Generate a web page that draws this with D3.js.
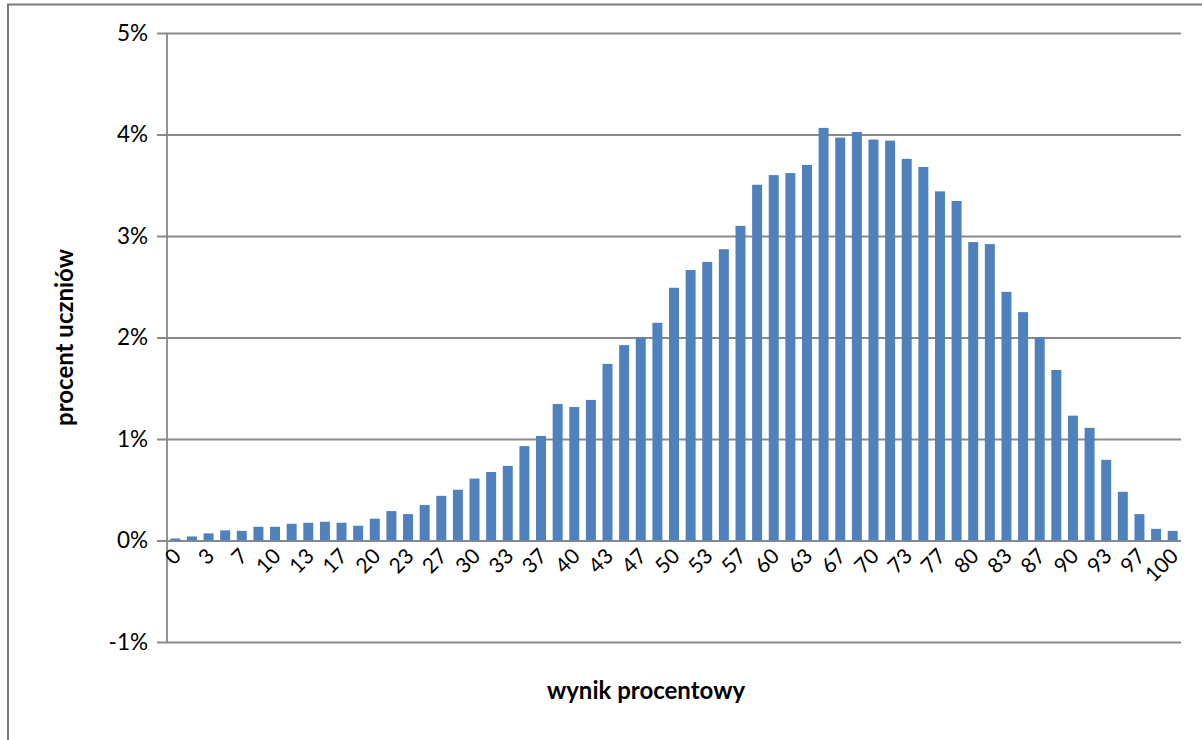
<!DOCTYPE html>
<html>
<head>
<meta charset="utf-8">
<script src="https://cdn.jsdelivr.net/npm/d3@7/dist/d3.min.js"></script>
<style>
  body { margin: 0; background: #fff; }
  svg text { font-family: Lato, "Open Sans", sans-serif; fill: #000; }
</style>
</head>
<body>
<div id="chart"></div>
<script>
// wynik procentowy (0..60 pkt przeliczone na %)
const scores = [
  0, 2, 3, 5, 7, 8, 10, 12, 13, 15, 17, 18, 20, 22, 23, 25, 27, 28, 30, 32,
  33, 35, 37, 38, 40, 42, 43, 45, 47, 48, 50, 52, 53, 55, 57, 58, 60, 62, 63, 65,
  67, 68, 70, 72, 73, 75, 77, 78, 80, 82, 83, 85, 87, 88, 90, 92, 93, 95, 97, 98, 100
];
// procent uczniów
const shares = [
  0.02, 0.04, 0.07, 0.10, 0.095, 0.135, 0.135, 0.165, 0.175, 0.185,
  0.175, 0.145, 0.215, 0.29, 0.26, 0.35, 0.44, 0.50, 0.61, 0.675,
  0.735, 0.93, 1.03, 1.345, 1.315, 1.385, 1.74, 1.925, 2.00, 2.145,
  2.49, 2.665, 2.745, 2.87, 3.10, 3.505, 3.60, 3.62, 3.70, 4.065,
  3.97, 4.025, 3.95, 3.94, 3.76, 3.68, 3.44, 3.345, 2.94, 2.92,
  2.45, 2.25, 2.005, 1.68, 1.23, 1.11, 0.795, 0.48, 0.26, 0.115, 0.095
];
const yTicks = [-1, 0, 1, 2, 3, 4, 5];

const W = 1202, H = 740;
const margin = { top: 33, right: 21, bottom: 98, left: 167 };
const width = W - margin.left - margin.right;
const height = H - margin.top - margin.bottom;
const gridColor = "#898989";

const svg = d3.select("#chart").append("svg")
  .attr("width", W)
  .attr("height", H);

// ramka wykresu (tylko góra i lewa strona widoczne)
svg.append("path")
  .attr("d", `M8,${H} V4.5 H${W}`)
  .attr("fill", "none")
  .attr("stroke", "#7a7a7a")
  .attr("stroke-width", 2);

const g = svg.append("g")
  .attr("transform", `translate(${margin.left},${margin.top})`);

const x = d3.scaleBand()
  .domain(scores.map(String))
  .range([0, width])
  .paddingInner(0.4)
  .paddingOuter(0.2);

const y = d3.scaleLinear()
  .domain([-1, 5])
  .range([height, 0]);

// siatka + etykiety osi Y
const yAxis = d3.axisLeft(y)
  .tickValues(yTicks)
  .tickSize(-(width + 10))
  .tickPadding(9)
  .tickFormat(d => d + "%");

g.append("g")
  .attr("class", "y axis")
  .attr("transform", "translate(-10,0)")
  .call(yAxis)
  .call(s => s.select(".domain").remove())
  .call(s => s.selectAll("line").attr("stroke", gridColor).attr("stroke-width", 1.8))
  .call(s => s.selectAll("text").style("font-size", "22.5px"));

// pionowa oś
g.append("line")
  .attr("x1", 0).attr("x2", 0)
  .attr("y1", 0).attr("y2", height)
  .attr("stroke", gridColor)
  .attr("stroke-width", 1.8);

// słupki
g.selectAll(".bar")
  .data(scores.map((s, i) => [String(s), shares[i]]))
  .enter()
  .append("rect")
  .attr("class", "bar")
  .attr("x", d => x(d[0]))
  .attr("width", x.bandwidth())
  .attr("y", d => y(d[1]))
  .attr("height", d => y(0) - y(d[1]))
  .attr("fill", "#4f81bd");

// oś X na wysokości 0%
const xAxis = d3.axisBottom(x)
  .tickValues(scores.filter((d, i) => i % 2 === 0).map(String))
  .tickSize(0);

g.append("g")
  .attr("class", "x axis")
  .attr("transform", `translate(0,${y(0)})`)
  .call(xAxis)
  .call(s => s.select(".domain").remove())
  .call(s => s.selectAll("text")
    .style("font-size", "21px")
    .attr("text-anchor", "end")
    .attr("y", 0)
    .attr("dy", "0")
    .attr("transform", "translate(7,17) rotate(-45)"));

// tytuły osi
svg.append("text")
  .attr("transform", `translate(73,${margin.top + y(2)}) rotate(-90)`)
  .attr("text-anchor", "middle")
  .style("font-size", "24px")
  .style("font-weight", "bold")
  .text("procent uczniów");

svg.append("text")
  .attr("x", 646)
  .attr("y", 699)
  .attr("text-anchor", "middle")
  .style("font-size", "24px")
  .style("font-weight", "bold")
  .text("wynik procentowy");
</script>
</body>
</html>
